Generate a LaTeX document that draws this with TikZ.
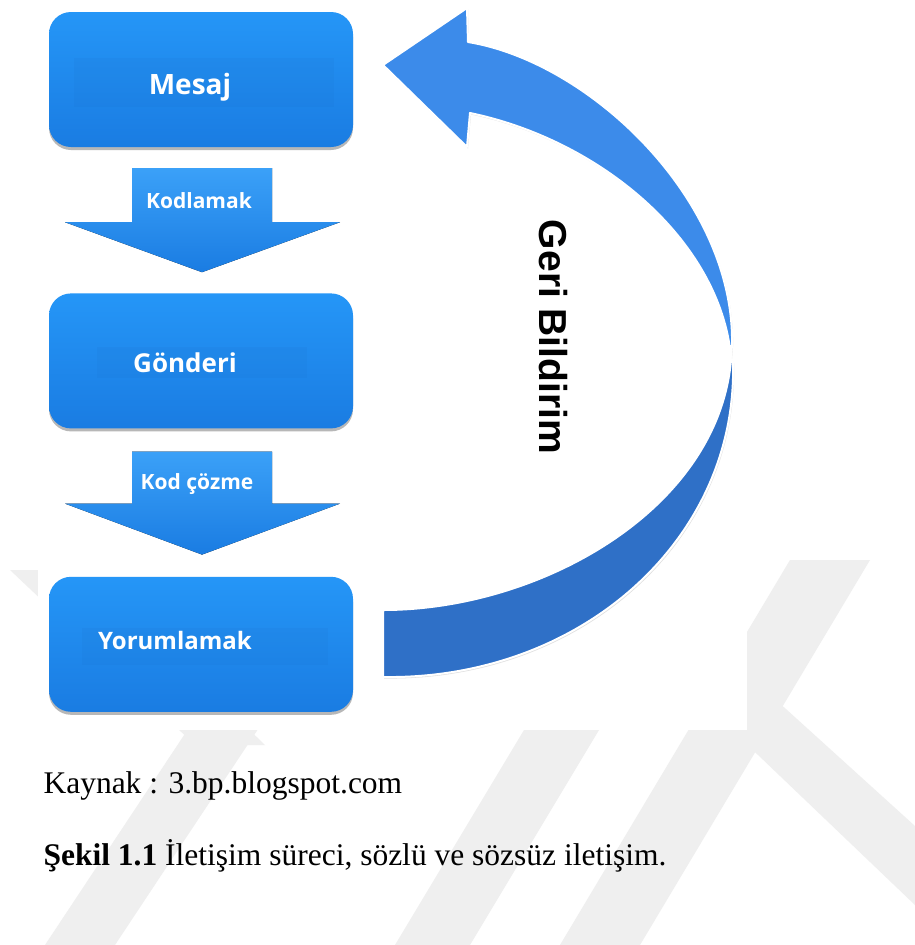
\documentclass[tikz,border=0pt]{standalone}
\usepackage{fontspec}
\setmainfont{Liberation Serif}
\newfontfamily\boxfont{Open Sans}
\newfontfamily\fbfont{Liberation Sans}
\usetikzlibrary{positioning,shadows}

\definecolor{boxtop}{HTML}{2596F7}
\definecolor{boxbot}{HTML}{1A7CE2}
\definecolor{fbtop}{HTML}{3C8BEA}
\definecolor{fbbot}{HTML}{2F70C7}
\definecolor{wmark}{HTML}{EFEFEF}

\begin{document}
\begin{tikzpicture}[x=1pt,y=-1pt,node distance=146pt,
    box/.style={rectangle,rounded corners=22pt,minimum width=304pt,minimum height=135pt,
      top color=boxtop,bottom color=boxbot,
      drop shadow={shadow xshift=0pt,shadow yshift=-3pt,opacity=.4,fill=black!70}},
    boxtext/.style={text=white,font=\boxfont\bfseries\fontsize{#1}{30}\selectfont},
    band/.style={fill=boxbot!85!black,opacity=.09},
    flow/.style={top color=boxtop!90!white,bottom color=boxbot},
    flowtext/.style={text=white,font=\boxfont\bfseries\fontsize{21}{24}\selectfont},
    back/.style={draw=white,line width=2pt,line join=round,
      drop shadow={shadow xshift=1pt,shadow yshift=-1.5pt,opacity=.25}},
    caption/.style={anchor=base west,font=\fontsize{31.5}{36}\selectfont}]
  \useasboundingbox (0,0) rectangle (915,945);
  \fill[white] (0,0) rectangle (915,945);

  % watermark
  \fill[wmark] (45,945) -- (115,945) -- (380,545) -- (310,545) -- cycle;
  \fill[wmark] (10,570) -- (85,570) -- (265,745) -- (195,745) -- cycle;
  \fill[wmark] (395,945) -- (470,945) -- (617,700) -- (542,700) -- cycle;
  \fill[wmark] (560,945) -- (640,945) -- (870,560) -- (790,560) -- cycle;
  \fill[wmark] (690,690) -- (765,690) -- (915,826) -- (915,905) -- cycle;
  \fill[white] (38,0) rectangle (747,730);

  % boxes
  \node[box] (mesaj) at (201,79.5) {};
  \node[box] (gonderi) [below=of mesaj] {};
  \node[box] (yorum) [below=148pt of gonderi] {};

  \fill[band] (74,58) rectangle (334,107);
  \fill[band] (97,347) rectangle (307,378);
  \fill[band] (82,628) rectangle (328,665);

  \node[boxtext=28] (mesaj_t) at ([shift={(-11,8)}]mesaj.center) {Mesaj};
  \node[boxtext=26] (gonderi_t) at ([shift={(-16,2)}]gonderi.center) {Gönderi};
  \node[boxtext=24] (yorum_t) at ([shift={(-26,-4)}]yorum.center) {Yorumlamak};

  % down arrows
  \fill[flow] ([shift={(-69,21)}]mesaj.south) -- ++(140,0) -- ++(0,54) -- ++(68,0)
    -- ++(-138,50) -- ++(-137,-50) -- ++(67,0) -- cycle;
  \node[flowtext] (kodla) at ([shift={(-2,53)}]mesaj.south) {Kodlamak};
  \fill[flow] ([shift={(-69,23)}]gonderi.south) -- ++(140,0) -- ++(0,52) -- ++(68,0)
    -- ++(-138,51) -- ++(-137,-51) -- ++(67,0) -- cycle;
  \node[flowtext] (cozme) at ([shift={(-4,55)}]gonderi.south) {Kod çözme};

  % feedback arrow
  \coordinate (tail) at ([xshift=30pt]yorum.east);
  \coordinate (tip) at (383,65);
  \fill[fbbot,back] (733,362) .. controls (738,540) and (580,680) .. (tail |- 0,677)
    -- (tail |- 0,610) .. controls (540,610) and (718,510) .. (731,360) -- cycle;
  \fill[fbtop,back] (tip) -- (467,8) -- (468,42) .. controls (590,62) and (735,200) .. (732,345)
    -- (731,357) .. controls (720,240) and (600,140) .. (470,113) -- (467,147) -- cycle;
  \node[rotate=-90,font=\fbfont\bfseries\fontsize{39}{44}\selectfont] (geri) at (553,337) {Geri Bildirim};

  % caption
  \node[caption] (kaynak) at (40,793) {Kaynak : 3.bp.blogspot.com};
  \node[caption] (sekil) at (40,865) {\textbf{Şekil 1.1} İletişim süreci, sözlü ve sözsüz iletişim.};
\end{tikzpicture}
\end{document}
